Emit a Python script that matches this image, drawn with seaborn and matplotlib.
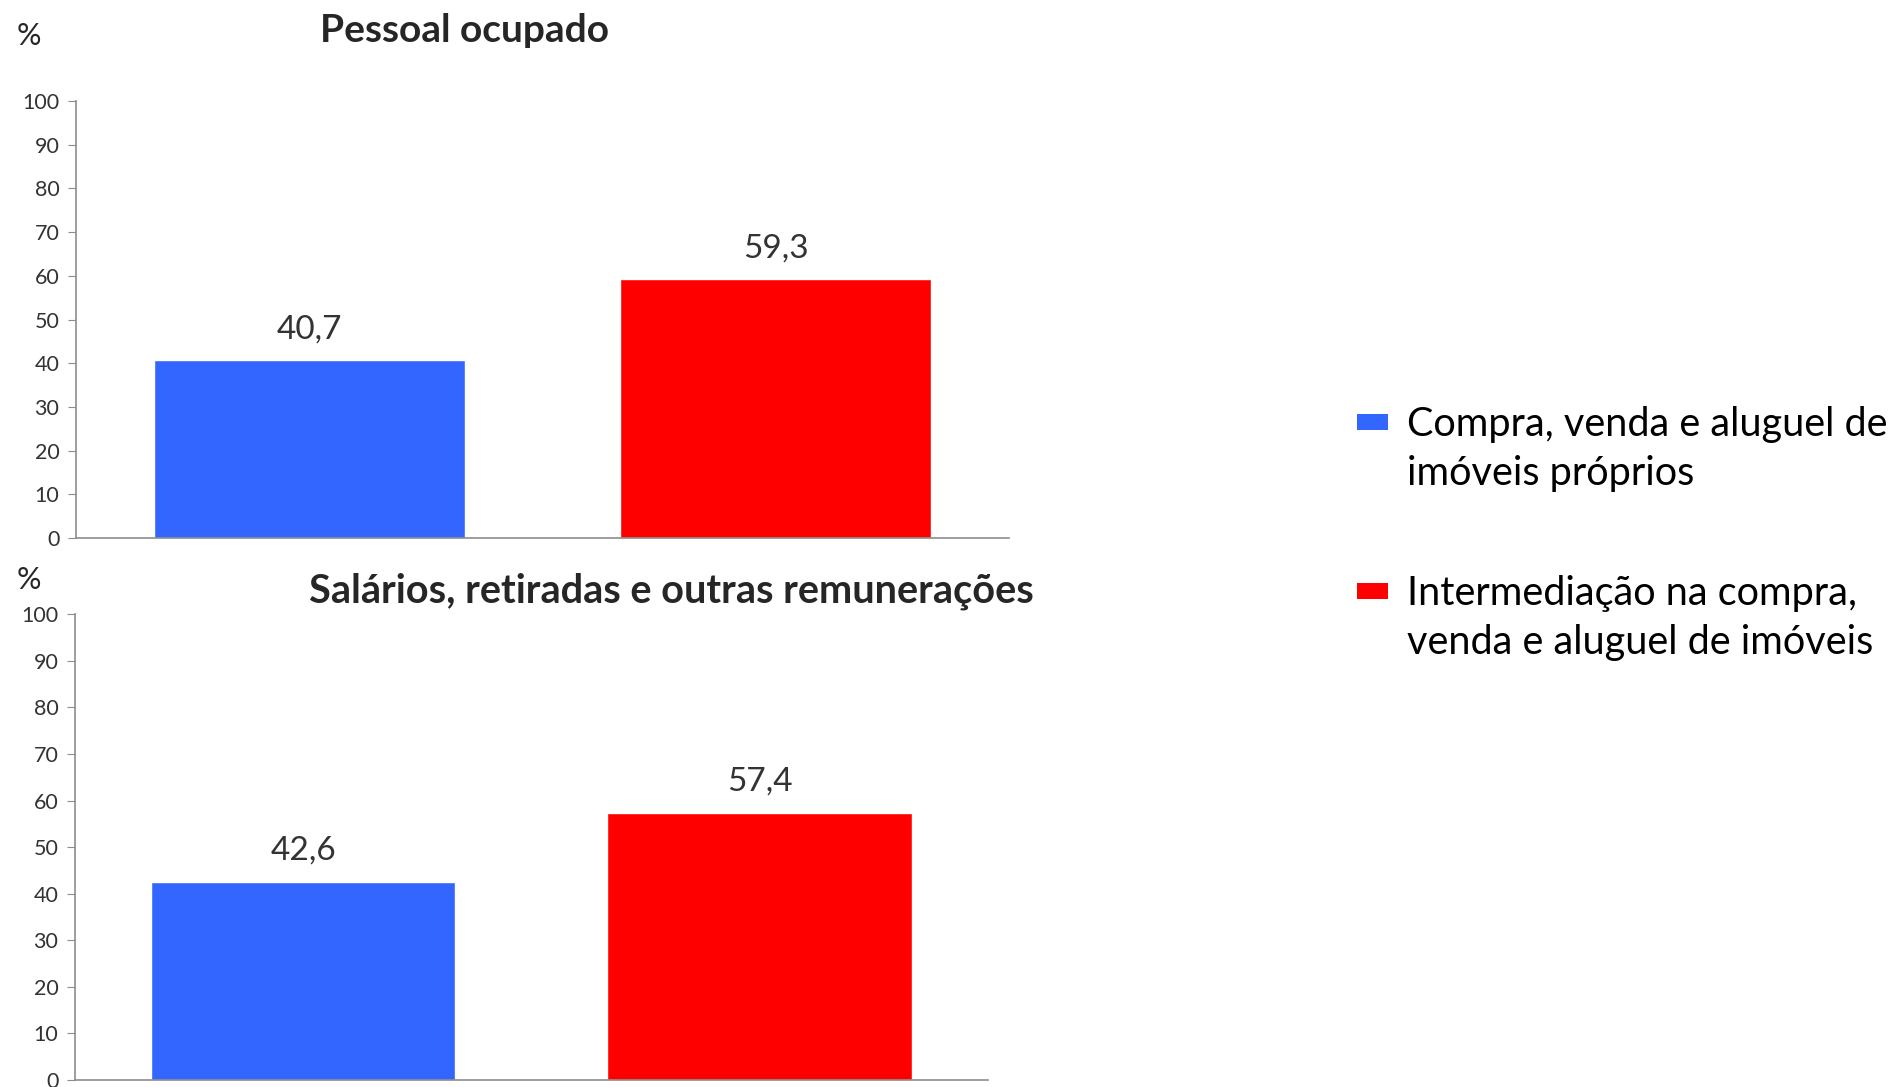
import matplotlib
matplotlib.use("Agg")
import matplotlib.pyplot as plt
import seaborn as sns
from matplotlib.patches import Rectangle

# -----------------------------
# data
# -----------------------------
categories = ["Compra, venda e aluguel de\nimóveis próprios",
              "Intermediação na compra,\nvenda e aluguel de imóveis"]
pessoal_ocupado = [40.7, 59.3]
salarios = [42.6, 57.4]
value_labels_top = ["40,7", "59,3"]
value_labels_bottom = ["42,6", "57,4"]
titles = ["Pessoal ocupado", "Salários, retiradas e outras remunerações"]
colors = ["#3366FF", "#FF0000"]

sns.set_style("white")
plt.rcParams["font.family"] = ["Lato", "DejaVu Sans"]

W, H = 1892, 1087
fig = plt.figure(figsize=(W / 100, H / 100), dpi=100)
ax1 = fig.add_axes([0.0402, 0.505, 0.493, 0.402])
ax2 = fig.add_axes([0.0396, 0.0064, 0.4826, 0.4286])

gray = "#8c8c8c"


def draw_panel(ax, values, labels):
    sns.barplot(x=[0, 1], y=values, hue=[0, 1], palette=colors, width=0.667,
                dodge=False, legend=False, ax=ax, native_scale=True,
                saturation=1)
    ax.set_xlim(-0.5, 1.5)
    ax.set_ylim(0, 100)
    ax.set_yticks(range(0, 101, 10))
    ax.set_xticks([])
    ax.tick_params(axis="y", labelsize=15.5, length=6, color=gray,
                   labelcolor="#333333", direction="out", left=True, pad=6)
    for s in ["top", "right"]:
        ax.spines[s].set_visible(False)
    for s in ["left", "bottom"]:
        ax.spines[s].set_color(gray)
        ax.spines[s].set_linewidth(1.2)
    for i, (v, t) in enumerate(zip(values, labels)):
        ax.text(i, v + 3.5, t, ha="center", va="bottom", fontsize=24,
                color="#333333")
    ax.set_ylabel("")


draw_panel(ax1, pessoal_ocupado, value_labels_top)
draw_panel(ax2, salarios, value_labels_bottom)

# titles and "%" labels
fig.text(464 / W, 1 - 30 / H, titles[0], ha="center", va="center",
         fontsize=28, fontweight="bold")
fig.text(671 / W, 1 - 591 / H, titles[1], ha="center", va="center",
         fontsize=28.5, fontweight="bold")
fig.text(29 / W, 1 - 36 / H, "%", ha="center", va="center", fontsize=22)
fig.text(29 / W, 1 - 580 / H, "%", ha="center", va="center", fontsize=22)

# legend (marker aligned with first line of each label)
legend_y = [422, 591]
for c, lab, y in zip(colors, categories, legend_y):
    fig.patches.append(Rectangle((1357 / W, 1 - (y + 8) / H), 31 / W, 16 / H,
                                 transform=fig.transFigure, facecolor=c,
                                 edgecolor="none"))
    fig.text(1407 / W, 1 - (y + 27) / H, lab, ha="left", va="center",
             fontsize=28.5, linespacing=1.42, color="black")

fig.savefig("out.png", dpi=100)
